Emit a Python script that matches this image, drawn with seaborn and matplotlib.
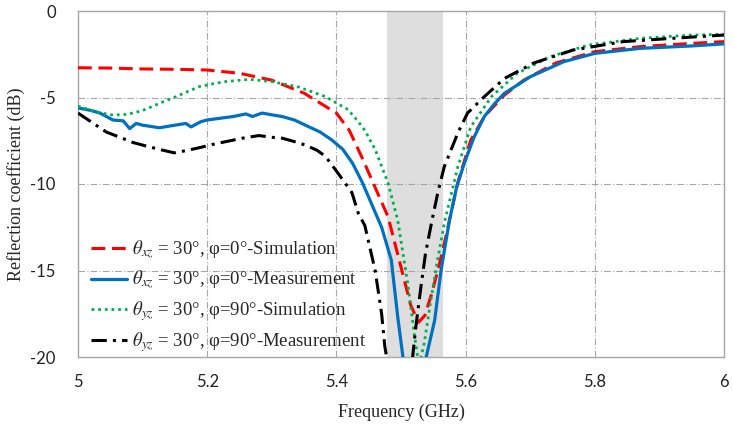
import numpy as np
import pandas as pd
import matplotlib
matplotlib.use("Agg")
import matplotlib.pyplot as plt
import seaborn as sns

# ---- data ----
sim_xz_f = [5.0, 5.05, 5.1, 5.15, 5.2, 5.25, 5.3, 5.35, 5.4, 5.42, 5.44, 5.46, 5.48, 5.5,
            5.515, 5.527, 5.537, 5.547, 5.557, 5.566, 5.575, 5.588, 5.608, 5.629, 5.66,
            5.69, 5.74, 5.8, 5.87, 5.95, 6.0]
sim_xz_db = [-3.28, -3.3, -3.35, -3.37, -3.41, -3.6, -4.0, -4.75, -5.9, -6.9, -8.5, -10.2, -11.9, -14.8,
             -17.0, -18.0, -17.6, -16.4, -15.0, -13.6, -12.1, -9.9, -7.46, -6.1, -4.86,
             -4.0, -3.0, -2.35, -2.06, -1.87, -1.77]

meas_xz_f = [5.0, 5.02, 5.034, 5.054, 5.07, 5.08, 5.09, 5.1, 5.126, 5.15, 5.167, 5.175, 5.19, 5.2,
             5.22, 5.24, 5.26, 5.27, 5.285, 5.3, 5.316, 5.335, 5.352, 5.375, 5.393, 5.41, 5.425,
             5.44, 5.455, 5.47, 5.485, 5.495, 5.503, 5.52, 5.539, 5.552, 5.562, 5.575, 5.586,
             5.598, 5.613, 5.629, 5.645, 5.66, 5.7, 5.752, 5.8, 5.87, 5.95, 6.0]
meas_xz_db = [-5.6, -5.75, -5.9, -6.3, -6.35, -6.8, -6.5, -6.6, -6.75, -6.6, -6.5, -6.7, -6.4, -6.3,
              -6.2, -6.1, -5.95, -6.1, -5.9, -6.0, -6.1, -6.3, -6.6, -7.0, -7.46, -8.0, -8.8,
              -9.9, -11.2, -12.5, -14.4, -17.7, -20.0, -22.5, -20.0, -17.9, -15.0, -12.1, -10.2,
              -8.8, -7.3, -6.1, -5.35, -4.76, -3.8, -2.93, -2.45, -2.16, -2.02, -1.9]

sim_yz_f = [5.0, 5.025, 5.05, 5.07, 5.085, 5.1, 5.116, 5.135, 5.152, 5.17, 5.188, 5.21, 5.229,
            5.265, 5.3, 5.342, 5.383, 5.418, 5.434, 5.444, 5.46, 5.48, 5.495, 5.511, 5.521,
            5.528, 5.536, 5.545, 5.556, 5.568, 5.588, 5.608, 5.64, 5.68, 5.731, 5.79, 5.87,
            5.95, 6.0]
sim_yz_db = [-5.5, -5.8, -6.0, -6.0, -5.9, -5.75, -5.5, -5.2, -4.95, -4.65, -4.37, -4.2, -4.08,
             -3.95, -4.08, -4.4, -4.95, -5.7, -6.4, -6.9, -8.0, -9.95, -12.1, -15.9, -18.8,
             -20.5, -19.2, -17.0, -14.5, -12.1, -9.0, -6.7, -4.95, -3.6, -2.64, -1.97, -1.58,
             -1.39, -1.35]

meas_yz_f = [5.0, 5.02, 5.044, 5.065, 5.085, 5.105, 5.126, 5.149, 5.17, 5.188, 5.21, 5.229, 5.255,
             5.28, 5.3, 5.316, 5.335, 5.352, 5.37, 5.383, 5.403, 5.424, 5.434, 5.444, 5.46, 5.47,
             5.475, 5.48, 5.497, 5.514, 5.518, 5.523, 5.531, 5.538, 5.548, 5.557, 5.567, 5.588,
             5.603, 5.629, 5.66, 5.706, 5.767, 5.844, 5.92, 6.0]
meas_yz_db = [-5.9, -6.4, -7.0, -7.3, -7.6, -7.8, -8.0, -8.2, -8.05, -7.9, -7.7, -7.55, -7.35,
              -7.2, -7.3, -7.35, -7.55, -7.75, -8.05, -8.4, -9.4, -10.5, -11.7, -12.4, -15.0, -17.5,
              -19.4, -20.5, -23.0, -20.5, -20.0, -18.25, -15.9, -14.0, -12.1, -10.5, -9.0, -7.05,
              -5.9, -4.95, -3.9, -3.0, -2.25, -1.77, -1.58, -1.39]

band = [5.478, 5.565]
x_ticks = [5, 5.2, 5.4, 5.6, 5.8, 6]
x_ticklabels = ["5", "5.2", "5.4", "5.6", "5.8", "6"]
y_ticks = [0, -5, -10, -15, -20]
y_ticklabels = ["0", "-5", "-10", "-15", "-20"]

labels = [r"$\theta_{xz}$ = 30°, φ=0°-Simulation",
          r"$\theta_{xz}$ = 30°, φ=0°-Measurement",
          r"$\theta_{yz}$ = 30°, φ=90°-Simulation",
          r"$\theta_{yz}$ = 30°, φ=90°-Measurement"]

sns.set_theme(style="white")
plt.rcParams["font.family"] = ["Liberation Serif", "DejaVu Serif"]
plt.rcParams["mathtext.fontset"] = "stix"

fig = plt.figure(figsize=(7.33, 4.26), dpi=100)
ax = fig.add_axes([78 / 733, 1 - 357 / 426, (724 - 78) / 733, (357 - 11) / 426])

ax.axvspan(band[0], band[1], color="#DEDEDE", zorder=0, lw=0)

styles = [
    (sim_xz_f, sim_xz_db, "#FF0000", (4.5, 2.2), 2.2),
    (meas_xz_f, meas_xz_db, "#0070C0", None, 2.3),
    (sim_yz_f, sim_yz_db, "#00B050", (1, 1.4), 2.0),
    (meas_yz_f, meas_yz_db, "#000000", (5, 2, 1, 2), 2.2),
]
for (fx, dy, col, dash, lw), lab in zip(styles, labels):
    df = pd.DataFrame({"f": fx, "db": dy})
    sns.lineplot(data=df, x="f", y="db", color=col, lw=lw, label=lab, ax=ax,
                 sort=False, zorder=3)
    ln = ax.lines[-1]
    if dash is not None:
        ln.set_dashes(dash)

ax.set_xlim(5, 6)
ax.set_ylim(-20, 0)
ax.set_xticks(x_ticks)
ax.set_xticklabels(x_ticklabels)
ax.set_yticks(y_ticks)
ax.set_yticklabels(y_ticklabels)
for t in ax.get_xticklabels() + ax.get_yticklabels():
    t.set_fontfamily(["Lato", "DejaVu Sans"])
    t.set_fontsize(12)
    t.set_color("#222222")
ax.tick_params(axis="x", length=0, pad=12)
ax.tick_params(axis="y", length=0, pad=16)

gridc = "#A6A6A6"
for xv in [5.2, 5.4, 5.6, 5.8]:
    ax.axvline(xv, color=gridc, lw=0.8, ls=(0, (6, 2, 1, 2)), zorder=1)
for yv in [-5, -10, -15]:
    ax.axhline(yv, color=gridc, lw=0.8, ls=(0, (6, 2, 1, 2)), zorder=1)

for s in ax.spines.values():
    s.set_visible(True)
    s.set_color("#A6A6A6")
    s.set_linewidth(1.0)

ax.set_xlabel("Frequency (GHz)", fontsize=13, labelpad=10)
ax.set_ylabel("Reflection coefficient (dB)", fontsize=13, labelpad=4)

leg = ax.legend(loc="lower left", bbox_to_anchor=(0.0, -0.03), frameon=False,
                fontsize=13.5, handlelength=1.9, handletextpad=0.3, labelspacing=0.4,
                borderaxespad=0.3)

fig.savefig("out.png", dpi=100)
